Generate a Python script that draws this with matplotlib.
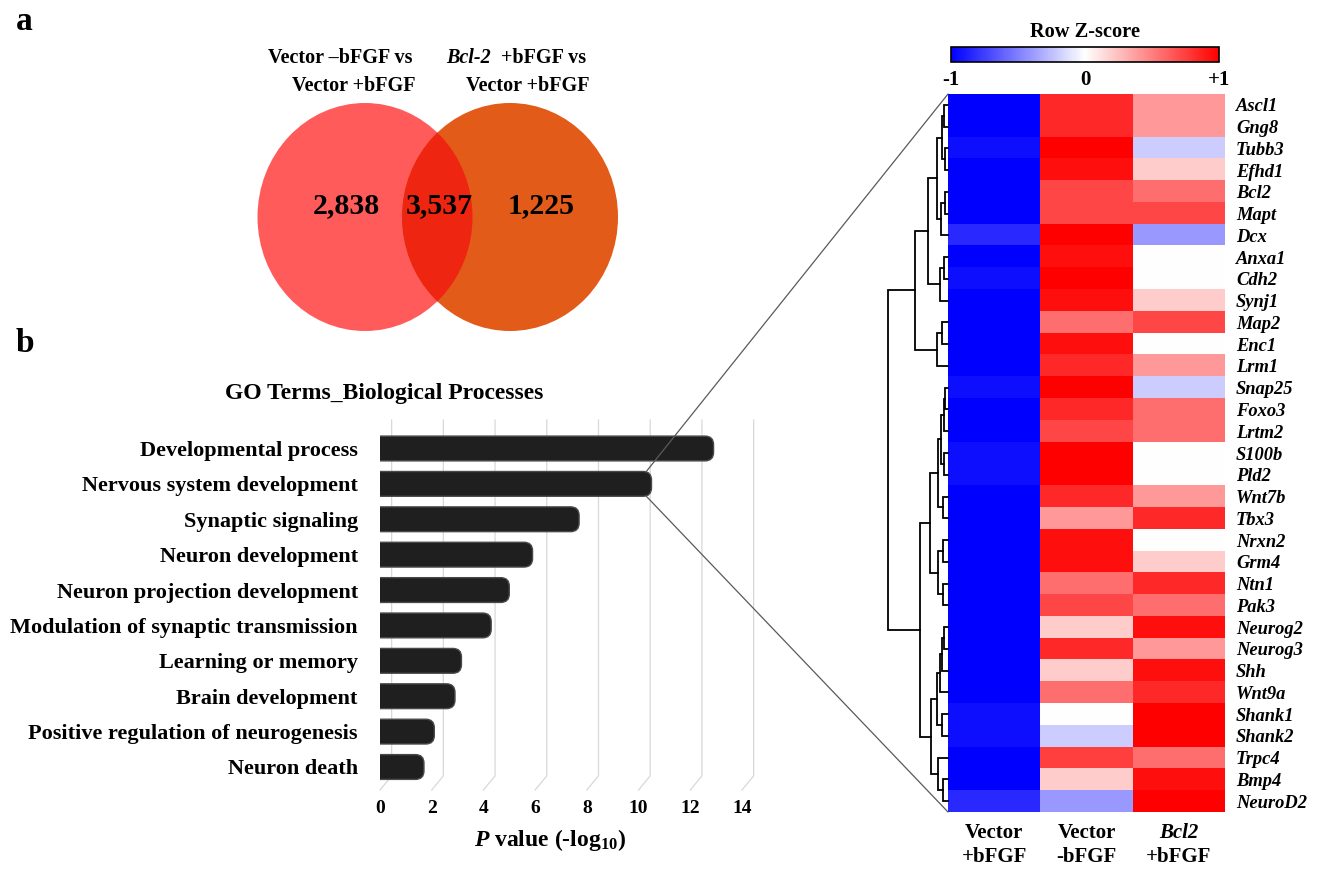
import numpy as np
import matplotlib
matplotlib.use('Agg')
import matplotlib.pyplot as plt
from matplotlib.patches import Ellipse, FancyBboxPatch, ConnectionPatch
from matplotlib.colors import LinearSegmentedColormap

W, H = 1318, 871
plt.rcParams['font.family'] = ['Liberation Serif', 'DejaVu Serif']
plt.rcParams['font.weight'] = 'bold'
plt.rcParams['mathtext.fontset'] = 'custom'
plt.rcParams['mathtext.rm'] = 'Liberation Serif:bold'
plt.rcParams['mathtext.it'] = 'Liberation Serif:italic:bold'
plt.rcParams['mathtext.bf'] = 'Liberation Serif:bold'

# ---------------- data ----------------
venn_counts = [2838, 3537, 1225]   # left only, shared, right only

go_terms = ['Developmental process', 'Nervous system development', 'Synaptic signaling',
            'Neuron development', 'Neuron projection development',
            'Modulation of synaptic transmission', 'Learning or memory',
            'Brain development', 'Positive regulation of neurogenesis', 'Neuron death']
go_pvals = [12.9, 10.5, 7.7, 5.9, 5.0, 4.3, 3.15, 2.9, 2.1, 1.7]
go_xticks = [0, 2, 4, 6, 8, 10, 12, 14]

genes = ['Ascl1', 'Gng8', 'Tubb3', 'Efhd1', 'Bcl2', 'Mapt', 'Dcx', 'Anxa1', 'Cdh2',
         'Synj1', 'Map2', 'Enc1', 'Lrm1', 'Snap25', 'Foxo3', 'Lrtm2', 'S100b', 'Pld2',
         'Wnt7b', 'Tbx3', 'Nrxn2', 'Grm4', 'Ntn1', 'Pak3', 'Neurog2', 'Neurog3', 'Shh',
         'Wnt9a', 'Shank1', 'Shank2', 'Trpc4', 'Bmp4', 'NeuroD2']
z_vector_pos = [-1, -1, -0.94, -1, -1, -1, -0.84, -1, -0.94, -1, -1, -1, -1, -0.94, -1, -1,
                -0.94, -0.94, -1, -1, -1, -1, -1, -1, -1, -1, -1, -1, -0.94, -0.94, -1, -1, -0.84]
z_vector_neg = [0.84, 0.84, 1.0, 0.94, 0.72, 0.72, 1.0, 0.94, 1.0, 0.94, 0.57, 0.94, 0.84,
                1.0, 0.84, 0.72, 1.0, 1.0, 0.84, 0.4, 0.94, 0.94, 0.57, 0.72, 0.2, 0.84,
                0.2, 0.57, 0.0, -0.2, 0.75, 0.2, -0.4]
z_bcl2_pos = [0.4, 0.4, -0.2, 0.2, 0.57, 0.72, -0.4, 0.0, 0.0, 0.2, 0.72, 0.0, 0.4, -0.2,
              0.57, 0.57, 0.0, 0.0, 0.4, 0.84, 0.0, 0.2, 0.84, 0.57, 0.94, 0.4, 0.94, 0.84,
              1.0, 1.0, 0.57, 0.94, 1.0]
conditions = [('Vector', '+bFGF'), ('Vector', '-bFGF'), ('Bcl2', '+bFGF')]

# hierarchical clustering merges: (child a, child b, height); new nodes numbered from 33
linkage = [
    (0, 1, 0.06), (2, 3, 0.05), (33, 34, 0.105), (4, 5, 0.05), (36, 6, 0.11),
    (35, 37, 0.18), (7, 8, 0.07), (39, 9, 0.13), (38, 40, 0.34), (10, 11, 0.10),
    (42, 12, 0.19), (41, 43, 0.55), (13, 14, 0.05), (45, 15, 0.075), (16, 17, 0.06),
    (46, 47, 0.12), (18, 19, 0.085), (48, 49, 0.16), (20, 21, 0.085), (22, 23, 0.085),
    (51, 52, 0.16), (50, 53, 0.30), (24, 25, 0.07), (55, 26, 0.10), (56, 27, 0.13),
    (28, 29, 0.10), (57, 58, 0.18), (31, 32, 0.085), (30, 60, 0.17), (59, 61, 0.28),
    (54, 62, 0.47), (44, 63, 1.0),
]

# ---------------- figure ----------------
fig = plt.figure(figsize=(W / 100, H / 100), dpi=100)


def px(l, t, r, b):
    return [l / W, 1 - b / H, (r - l) / W, (b - t) / H]


ax0 = fig.add_axes([0, 0, 1, 1])
ax0.set_xlim(0, W)
ax0.set_ylim(H, 0)
ax0.axis('off')

# panel letters
ax0.text(16, 22, 'a', fontsize=24, ha='left', va='center')
ax0.text(16, 343, 'b', fontsize=24, ha='left', va='center')

# ---------------- Venn ----------------
left = Ellipse((365, 217), 215, 228, color='#ff5b5b', lw=0)
right = Ellipse((510, 217), 216, 228, color='#e35b19', lw=0)
ax0.add_patch(left)
ax0.add_patch(right)
inter = Ellipse((510, 217), 216, 228, color='#ee2511', lw=0)
ax0.add_patch(inter)
inter.set_clip_path(left)

for xc, n in zip([346, 439, 541], venn_counts):
    ax0.text(xc, 206, f'{n:,}', fontsize=21.5, ha='center', va='center')

ax0.text(412, 58, 'Vector \u2013bFGF vs', fontsize=14.5, ha='right', va='center')
ax0.text(416, 86, 'Vector +bFGF', fontsize=14.5, ha='right', va='center')
ax0.text(446, 58, 'Bcl-2', fontsize=14.5, ha='left', va='center', style='italic')
ax0.text(586, 58, '+bFGF vs', fontsize=14.5, ha='right', va='center')
ax0.text(590, 86, 'Vector +bFGF', fontsize=14.5, ha='right', va='center')

# ---------------- GO bar chart ----------------
axb = fig.add_axes(px(380, 420, 742, 790))
axb.set_facecolor('none')
ypos = np.arange(len(go_terms))
bars = axb.barh(ypos, go_pvals, height=0.7, color='#1e1e1e')
axb.set_xlim(0, 14)
axb.set_ylim(9.65, -0.805)
aspect = 26.0 / 35.4
for rect in bars:
    x0, y0 = rect.get_x(), rect.get_y()
    w, h = rect.get_width(), rect.get_height()
    rect.set_visible(False)
    fb = FancyBboxPatch((x0 - 0.5, y0), w + 0.5, h,
                        boxstyle='round,pad=0,rounding_size=0.33',
                        mutation_aspect=aspect, facecolor='#1f1f1f',
                        edgecolor='#4a4a4a', lw=1.0, zorder=3)
    axb.add_patch(fb)

for v in go_xticks:
    axb.plot([v + 0.45, v + 0.45, v], [-0.805, 9.25, 9.65], color='#d8d8d8',
             lw=0.9, clip_on=False, zorder=1)

axb.set_xticks(go_xticks)
axb.set_xticklabels([str(v) for v in go_xticks], fontsize=14)
axb.tick_params(axis='x', length=0, pad=7)
axb.set_yticks(ypos)
axb.set_yticklabels(go_terms, fontsize=16)
axb.tick_params(axis='y', length=0, pad=16)
for s in axb.spines.values():
    s.set_visible(False)

ax0.text(384, 393, 'GO Terms_Biological Processes', fontsize=17, ha='center', va='center')
ax0.text(550, 840, r'$\mathit{P}$ value (-log$_{10}$)', fontsize=17, ha='center', va='center')

# ---------------- heatmap ----------------
cmap = LinearSegmentedColormap.from_list('bwr2', ['#0000ff', '#ffffff', '#ff0000'])
axh = fig.add_axes(px(948, 94, 1225, 812))
data = np.column_stack([z_vector_pos, z_vector_neg, z_bcl2_pos])
im = axh.imshow(data, cmap=cmap, vmin=-1, vmax=1, aspect='auto', interpolation='nearest')
axh.set_xticks([])
axh.set_yticks(np.arange(len(genes)))
axh.set_yticklabels(genes, fontsize=13.3, style='italic')
axh.yaxis.tick_right()
axh.tick_params(axis='y', length=0, pad=8)
for s in axh.spines.values():
    s.set_visible(False)

for i, (l1, l2) in enumerate(conditions):
    axh.text(i, 33.45, l1, fontsize=15, ha='center', va='center',
             style='italic' if l1 == 'Bcl2' else 'normal', clip_on=False)
    axh.text(i, 34.55, l2, fontsize=15, ha='center', va='center', clip_on=False)

# colour bar
axc = fig.add_axes(px(951, 47, 1219, 62))
cb = fig.colorbar(im, cax=axc, orientation='horizontal')
cb.set_ticks([-1, 0, 1])
cb.set_ticklabels(['-1', '0', '+1'])
axc.tick_params(length=0, pad=6, labelsize=15)
cb.outline.set_linewidth(1.2)
ax0.text(1085, 32, 'Row Z-score', fontsize=14.7, ha='center', va='center')

# ---------------- dendrogram ----------------
axd = fig.add_axes(px(880, 94, 948, 812))
axd.set_facecolor('none')
axd.set_xlim(68 / 60, 0)
axd.set_ylim(len(genes) - 0.5, -0.5)
axd.axis('off')
pos = {i: (float(i), 0.0) for i in range(len(genes))}
for k, (a, b, hgt) in enumerate(linkage):
    ya, ha_ = pos[a]
    yb, hb = pos[b]
    axd.plot([ha_, hgt, hgt, hb], [ya, ya, yb, yb], color='black', lw=1.3,
             solid_joinstyle='miter', clip_on=False)
    pos[len(genes) + k] = ((ya + yb) / 2.0, hgt)

# ---------------- zoom lines ----------------
top_y = ypos[1] - 0.35
bot_y = ypos[1] + 0.35
for yb_, yh in [(top_y, -0.5), (bot_y, len(genes) - 0.5)]:
    cp = ConnectionPatch(xyA=(go_pvals[1] - 0.2, yb_), coordsA=axb.transData,
                         xyB=(-0.5, yh), coordsB=axh.transData,
                         color='#5a5a5a', lw=0.9, zorder=10)
    fig.add_artist(cp)

fig.savefig('out.png', dpi=100)
